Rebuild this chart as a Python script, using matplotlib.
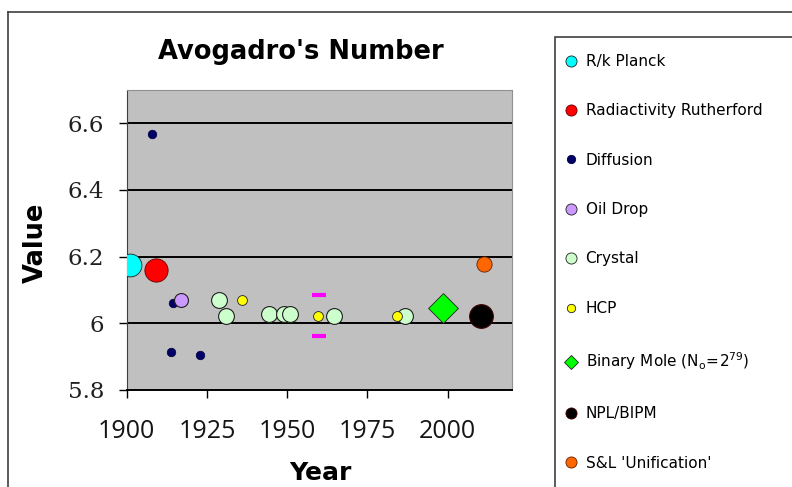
import matplotlib
matplotlib.use("Agg")
import matplotlib.pyplot as plt
from matplotlib.lines import Line2D
from matplotlib.patches import Rectangle

# ---- data ----
planck_year = [1901]
planck_val = [6.174]
ruth_year = [1909]
ruth_val = [6.161]
diff_year = [1908, 1913.7, 1914.5, 1922.7]
diff_val = [6.567, 5.915, 6.062, 5.905]
oil_year = [1916.8]
oil_val = [6.069]
crys_year = [1928.7, 1930.8, 1944.4, 1948.9, 1951, 1964.6, 1986.6]
crys_val = [6.069, 6.022, 6.027, 6.027, 6.027, 6.022, 6.022]
hcp_year = [1936, 1959.7, 1984.4]
hcp_val = [6.069, 6.022, 6.022]
hcp_bound_year = [1960, 1960]
hcp_bound_val = [6.084, 5.961]
bin_year = [1998.7]
bin_val = [6.045]
npl_year = [2010.3]
npl_val = [6.022]
sl_year = [2011.4]
sl_val = [6.177]

labels = ["R/k Planck", "Radiactivity Rutherford", "Diffusion", "Oil Drop",
          "Crystal", "HCP", r"Binary Mole $\mathregular{(N_o\!=\!2^{79})}$",
          "NPL/BIPM", "S&L 'Unification'"]
xticks = [1900, 1925, 1950, 1975, 2000]
yticks = [5.8, 6.0, 6.2, 6.4, 6.6]
yticklabels = ["5.8", "6", "6.2", "6.4", "6.6"]

W, H = 792, 487
fig = plt.figure(figsize=(W / 100, H / 100), dpi=100)
fig.patch.set_facecolor("white")

ax = fig.add_axes([126.7 / W, 1 - 390 / H, (511.7 - 126.7) / W, 300 / H])
ax.set_facecolor("#c0c0c0")
ax.set_xlim(1900, 2020)
ax.set_ylim(5.8, 6.7)
for yv in yticks[1:]:
    ax.axhline(yv, color="black", lw=1.4, zorder=1)

ec = "#202020"
ax.scatter(planck_year, planck_val, s=270, c="#00ffff", edgecolors=ec, linewidths=0.6, zorder=3)
ax.scatter(ruth_year, ruth_val, s=280, c="#ff0000", edgecolors="#600000", linewidths=0.6, zorder=3)
ax.scatter(diff_year, diff_val, s=38, c="#000066", edgecolors="#000040", linewidths=0.5, zorder=3)
ax.scatter(oil_year, oil_val, s=100, c="#cc99ff", edgecolors=ec, linewidths=0.8, zorder=4)
ax.scatter(crys_year, crys_val, s=130, c="#ccffcc", edgecolors=ec, linewidths=0.8, zorder=3)
ax.scatter(hcp_year, hcp_val, s=50, c="#ffff00", edgecolors=ec, linewidths=0.6, zorder=4)
ax.scatter(hcp_bound_year, hcp_bound_val, s=90, marker="_", c="#ff00ff", linewidths=3, zorder=3)
ax.scatter(bin_year, bin_val, s=230, marker="D", c="#00ff00", edgecolors=ec, linewidths=0.6, zorder=3)
ax.scatter(npl_year, npl_val, s=290, c="#000000", edgecolors="#400000", linewidths=0.8, zorder=3)
ax.scatter(sl_year, sl_val, s=120, c="#ff6600", edgecolors="#602000", linewidths=0.6, zorder=3)

ax.set_xticks(xticks)
ax.set_xticklabels([str(x) for x in xticks], fontfamily="Open Sans", fontsize=18, color="#151515")
ax.set_yticks(yticks)
ax.set_yticklabels(yticklabels, fontfamily="DejaVu Serif", fontsize=16.5, color="#202020")
ax.tick_params(axis="x", length=6, width=1, pad=15, direction="out")
ax.tick_params(axis="y", length=6, width=1, pad=10, direction="out")
for side in ["top", "right"]:
    ax.spines[side].set_color("#909090")
ax.spines["left"].set_color("#404040")
ax.spines["bottom"].set_color("black")
ax.spines["bottom"].set_linewidth(1.4)

fig.text(301 / W, 1 - 52 / H, "Avogadro's Number", ha="center", va="center",
         fontsize=18.5, fontweight="bold", fontfamily="DejaVu Sans")
fig.text(320 / W, 1 - 473 / H, "Year", ha="center", va="center",
         fontsize=18, fontweight="bold", fontfamily="DejaVu Sans")
fig.text(36 / W, 1 - 243 / H, "Value", ha="center", va="center", rotation=90,
         fontsize=18.5, fontweight="bold", fontfamily="DejaVu Sans")

# outer chart border (left/top visible)
fig.add_artist(Line2D([8 / W, 8 / W], [0, 1 - 12 / H], color="#404040", lw=1.2, transform=fig.transFigure))
fig.add_artist(Line2D([8 / W, 1], [1 - 12 / H, 1 - 12 / H], color="#404040", lw=1.2, transform=fig.transFigure))

# legend box
fig.add_artist(Rectangle((555 / W, -0.01), 1, 1 - 37 / H + 0.01, transform=fig.transFigure,
                         facecolor="white", edgecolor="#404040", lw=1.2))

handles = [
    Line2D([], [], ls="", marker="o", ms=8, mfc="#00ffff", mec=ec, mew=0.6),
    Line2D([], [], ls="", marker="o", ms=8, mfc="#ff0000", mec="#600000", mew=0.6),
    Line2D([], [], ls="", marker="o", ms=6, mfc="#000066", mec="#000040", mew=0.6),
    Line2D([], [], ls="", marker="o", ms=8, mfc="#cc99ff", mec=ec, mew=0.6),
    Line2D([], [], ls="", marker="o", ms=8, mfc="#ccffcc", mec=ec, mew=0.6),
    Line2D([], [], ls="", marker="o", ms=6, mfc="#ffff00", mec=ec, mew=0.6),
    Line2D([], [], ls="", marker="D", ms=7, mfc="#00ff00", mec=ec, mew=0.6),
    Line2D([], [], ls="", marker="o", ms=8, mfc="#000000", mec="#400000", mew=0.6),
    Line2D([], [], ls="", marker="o", ms=8, mfc="#ff6600", mec="#602000", mew=0.6),
]
leg = fig.legend(handles, labels, loc="upper left", bbox_to_anchor=(565 / W, 1 - 54 / H),
                 frameon=False, prop={"family": "DejaVu Sans", "size": 11},
                 labelspacing=2.25, handlelength=0.8, handletextpad=0.55, borderpad=0,
                 borderaxespad=0)

fig.savefig("out.png", dpi=100)
